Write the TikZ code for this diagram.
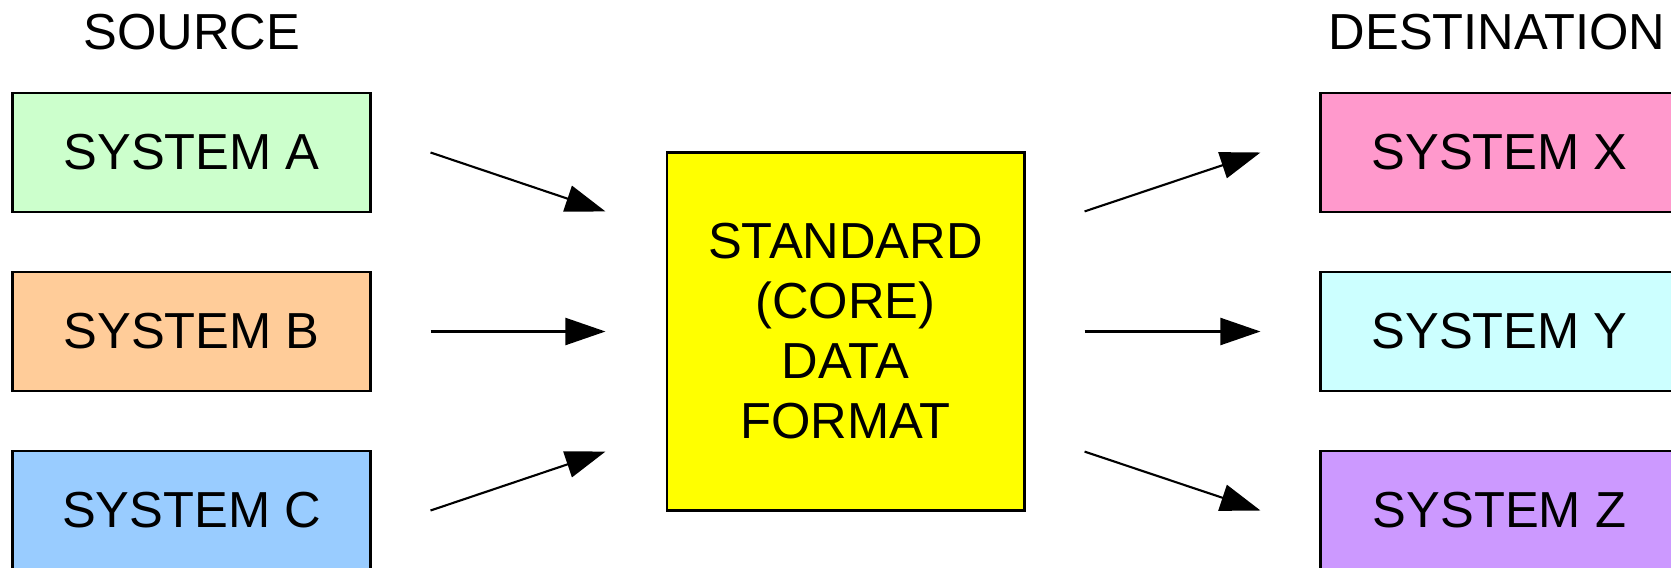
\documentclass[tikz,border=0pt]{standalone}
\usepackage{fontspec}
\setmainfont{Liberation Sans}
\usetikzlibrary{arrows.meta}
\definecolor{srcgreen}{HTML}{CCFFCC}
\definecolor{srcorange}{HTML}{FFCC99}
\definecolor{srcblue}{HTML}{99CCFF}
\definecolor{coreyellow}{HTML}{FFFF00}
\definecolor{dstpink}{HTML}{FF99CC}
\definecolor{dstcyan}{HTML}{CCFFFF}
\definecolor{dstviolet}{HTML}{CC99FF}

\begin{document}
\begin{tikzpicture}[x=0.01cm,y=-0.01cm]
\useasboundingbox (0,0) rectangle (1671,567);
\tikzset{bigfont/.style={font=\fontsize{14.4}{17.07}\selectfont}}
\tikzset{sysbox/.style={draw, line width=0.8pt, bigfont, inner sep=0,
  minimum width=3.58cm, minimum height=1.19cm}}
\tikzset{flow/.style={-{Triangle[length=0.4cm,width=0.27cm]}, line width=0.6pt}}
% headings
\node[bigfont,anchor=base] (src) at (192,50) {SOURCE};
\node[bigfont,anchor=base] (dst) at (1497,50) {DESTINATION};
% source systems
\node[sysbox,fill=srcgreen] (sysA) at (191.5,152.5) {SYSTEM A};
\node[sysbox,fill=srcorange] (sysB) at (191.5,331.5) {SYSTEM B};
\node[sysbox,fill=srcblue] (sysC) at (191.5,510.5) {SYSTEM C};
% core format
\node[sysbox,fill=coreyellow,minimum width=3.57cm,minimum height=3.57cm,align=center]
  (core) at (845.5,331.5) {STANDARD\\(CORE)\\DATA\\FORMAT};
% destination systems
\node[sysbox,fill=dstpink] (sysX) at (1499.5,152.5) {SYSTEM X};
\node[sysbox,fill=dstcyan] (sysY) at (1499.5,331.5) {SYSTEM Y};
\node[sysbox,fill=dstviolet] (sysZ) at (1499.5,510.5) {SYSTEM Z};
% flows
\draw[flow] ([xshift=0.585cm]sysA.east) -- ([xshift=-0.6cm,yshift=1.2cm]core.west);
\draw[flow] ([xshift=0.585cm]sysB.east) -- ([xshift=-0.6cm]core.west);
\draw[flow] ([xshift=0.585cm]sysC.east) -- ([xshift=-0.6cm,yshift=-1.2cm]core.west);
\draw[flow] ([xshift=0.59cm,yshift=1.2cm]core.east) -- ([xshift=-0.585cm]sysX.west);
\draw[flow] ([xshift=0.59cm]core.east) -- ([xshift=-0.585cm]sysY.west);
\draw[flow] ([xshift=0.59cm,yshift=-1.2cm]core.east) -- ([xshift=-0.585cm]sysZ.west);
\end{tikzpicture}
\end{document}
